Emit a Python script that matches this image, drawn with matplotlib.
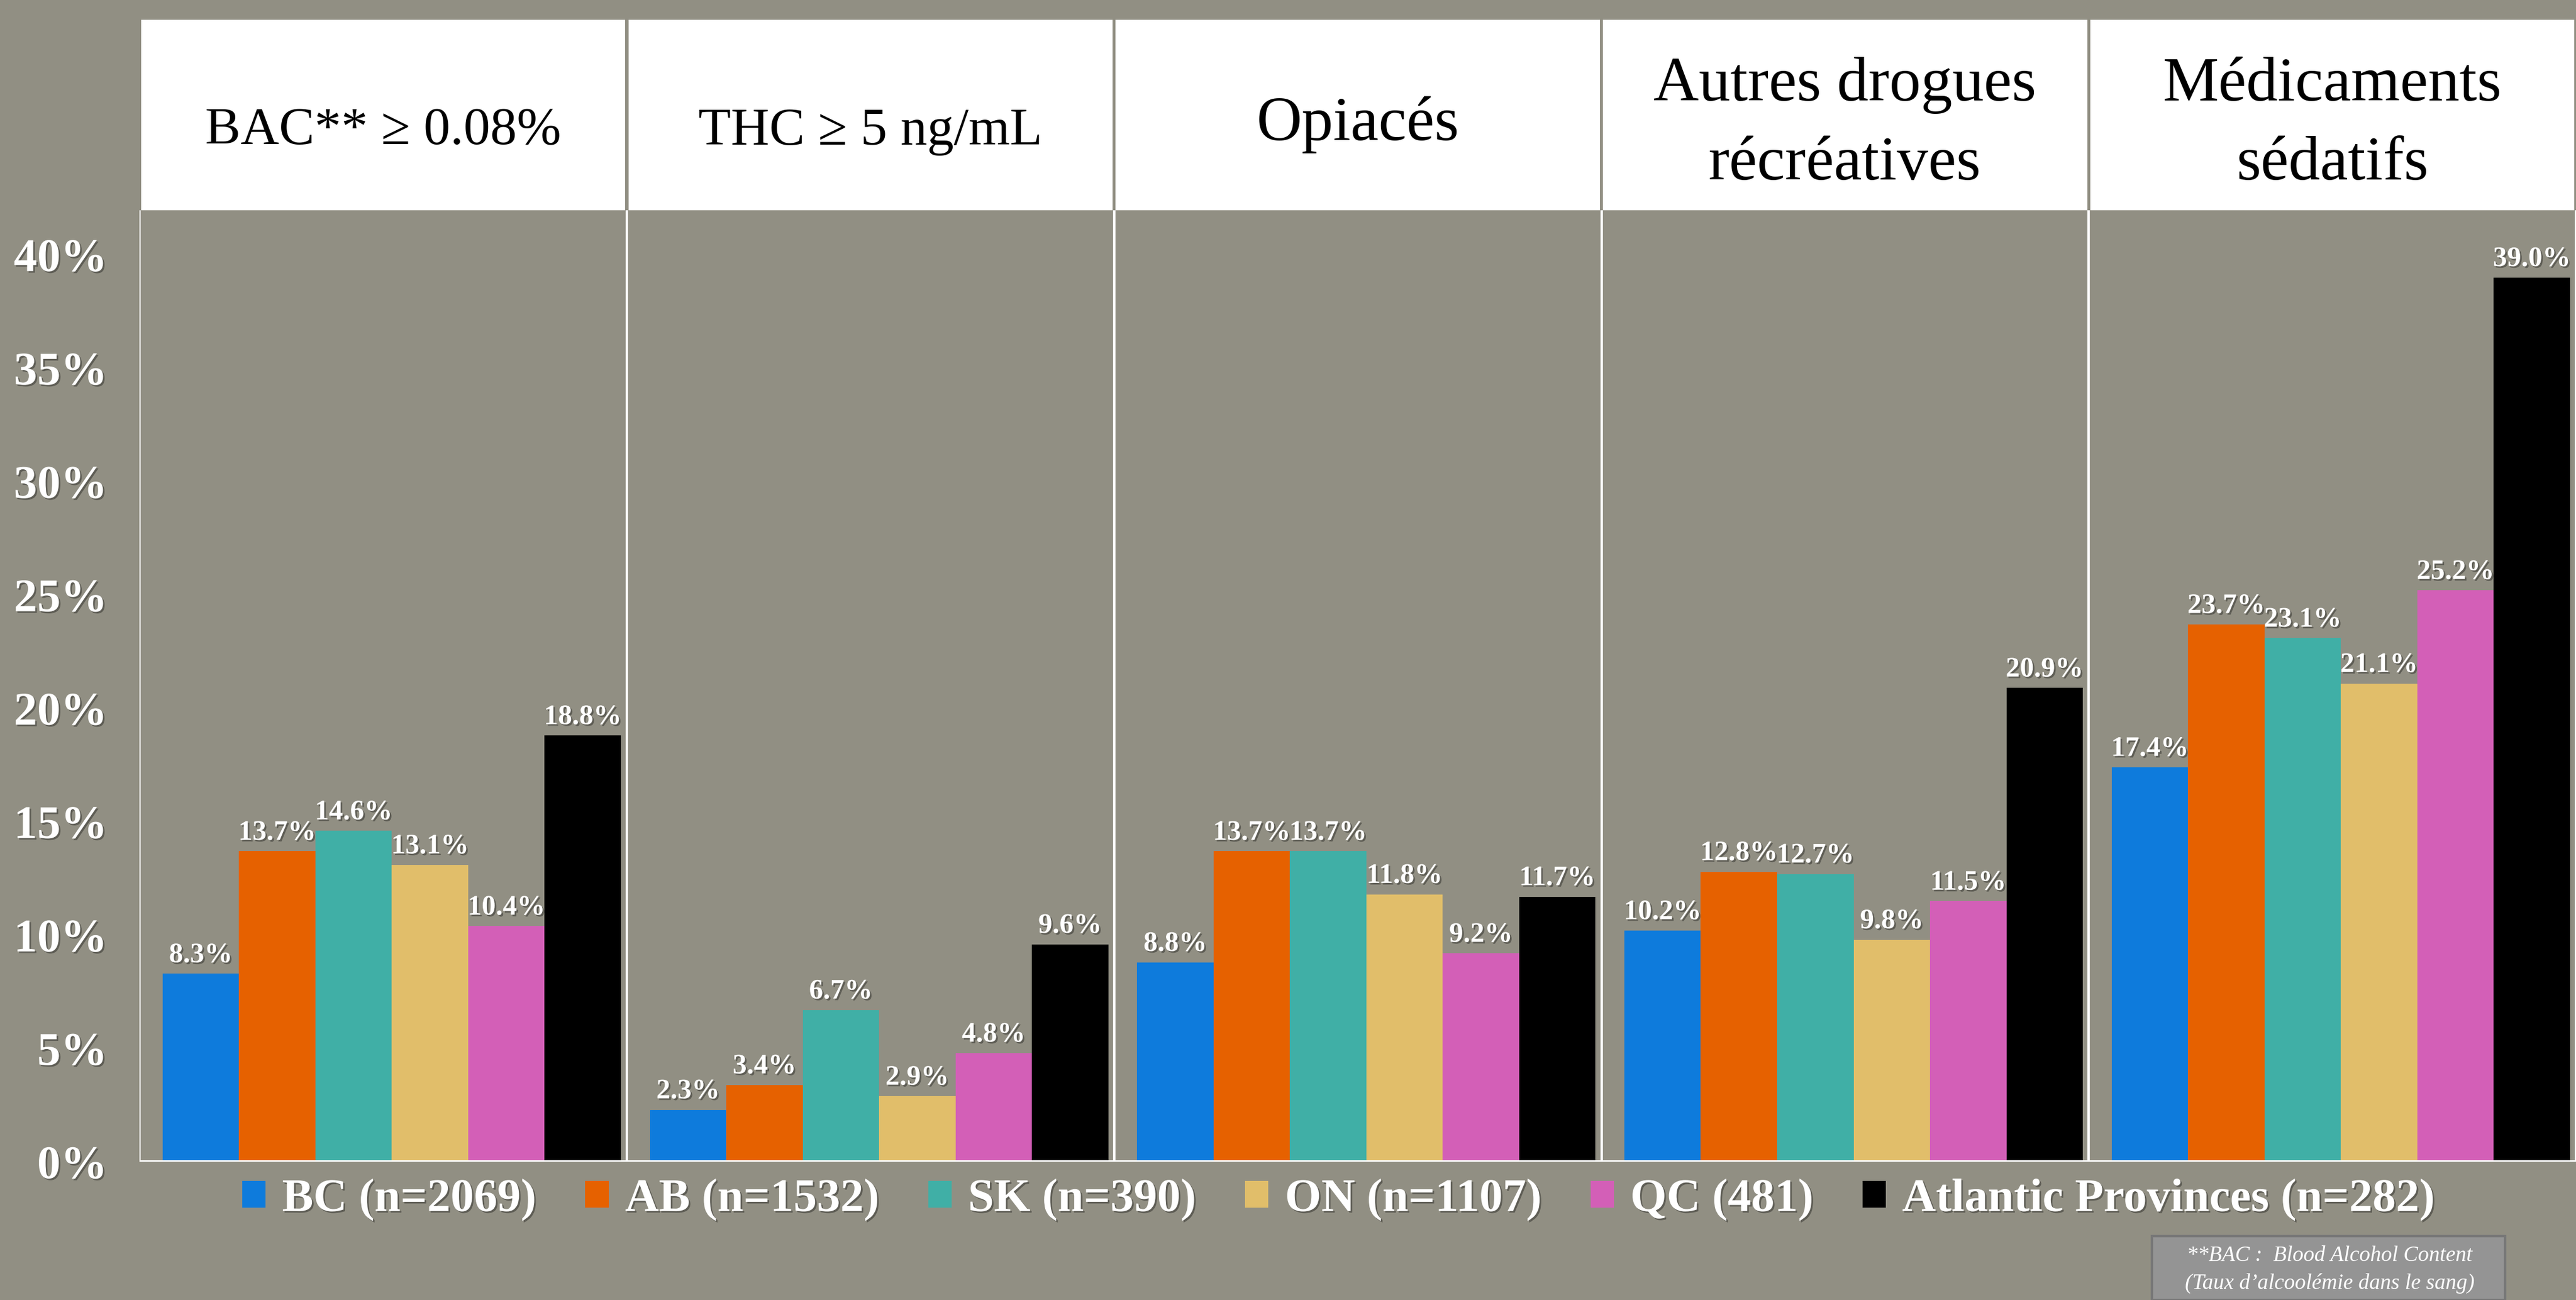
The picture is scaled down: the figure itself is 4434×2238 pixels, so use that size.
import matplotlib
matplotlib.use("Agg")
import matplotlib.pyplot as plt
import matplotlib.patheffects as pe
from matplotlib.patches import Rectangle, Patch

plt.rcParams['font.family'] = ['Liberation Serif', 'DejaVu Serif']

# ---- data ----
categories = ["BAC** \u2265 0.08%", "THC \u2265 5 ng/mL", "Opiac\u00e9s",
              "Autres drogues\nr\u00e9cr\u00e9atives", "M\u00e9dicaments\ns\u00e9datifs"]
series = ["BC (n=2069)", "AB (n=1532)", "SK (n=390)", "ON (n=1107)",
          "QC (481)", "Atlantic Provinces (n=282)"]
bc = [8.3, 2.3, 8.8, 10.2, 17.4]
ab = [13.7, 3.4, 13.7, 12.8, 23.7]
sk = [14.6, 6.7, 13.7, 12.7, 23.1]
on = [13.1, 2.9, 11.8, 9.8, 21.1]
qc = [10.4, 4.8, 9.2, 11.5, 25.2]
atl = [18.8, 9.6, 11.7, 20.9, 39.0]
yticks = [0, 5, 10, 15, 20, 25, 30, 35, 40]
footnote = ["**BAC :  Blood Alcohol Content", "(Taux d\u2019alcool\u00e9mie dans le sang)"]

colors = ["#0E7BDC", "#E66100", "#40AFA6", "#E1BE6A", "#D35FB7", "#000000"]
bg = "#918F83"

values = [bc, ab, sk, on, qc, atl]
shadow = [pe.withSimplePatchShadow(offset=(2, -2), shadow_rgbFace='black', alpha=0.35)]

fig = plt.figure(figsize=(44.34, 22.38), dpi=100, facecolor=bg)
ax_left, ax_right = 85 / 1568, 1.0
ax_bottom, ax_top = 1 - 707 / 791, 1 - 128 / 791
ax = fig.add_axes([ax_left, ax_bottom, ax_right - ax_left, ax_top - ax_bottom])
ax.set_facecolor(bg)

G = 6.378  # group width in bar units
n_groups = len(categories)
for j, (vals, col) in enumerate(zip(values, colors)):
    xs = [i * G + 0.8 + j for i in range(n_groups)]
    bars = ax.bar(xs, vals, width=1.0, color=col, zorder=2)
    for b, v in zip(bars, vals):
        ax.annotate(f"{v:.1f}%", (b.get_x() + b.get_width() / 2, v),
                    xytext=(0, 7), textcoords='offset points',
                    ha='center', va='bottom', color='white',
                    fontsize=35, fontweight='bold', path_effects=shadow, zorder=3)

ax.set_xlim(0, n_groups * G)
ax.set_ylim(0, 41.96)
for i in range(n_groups + 1):
    ax.axvline(i * G, color='white', lw=3, zorder=4)
ax.axhline(0, color='white', lw=4, zorder=4)

ax.set_xticks([])
ax.set_yticks(yticks)
ax.set_yticklabels([f"{t}%" for t in yticks], color='white', fontsize=58,
                   fontweight='bold')
for lbl in ax.get_yticklabels():
    lbl.set_path_effects(shadow)
ax.tick_params(axis='y', length=0, pad=40)
for s in ax.spines.values():
    s.set_visible(False)

# header boxes
head_bottom, head_top = 1 - 128 / 791, 1 - 12 / 791
pw = (ax_right - ax_left) / n_groups
for i, cat in enumerate(categories):
    x0 = ax_left + i * pw
    fig.patches.append(Rectangle((x0 + 0.0006, head_bottom), pw - 0.0012,
                                 head_top - head_bottom, transform=fig.transFigure,
                                 facecolor='white', edgecolor='none'))
    if i < 2:
        fig.text(x0 + pw / 2, 1 - 80 / 791, cat, ha='center', va='center',
                 fontsize=66, color='black')
    else:
        fig.text(x0 + pw / 2, 1 - 76 / 791, cat, ha='center', va='center',
                 fontsize=78, color='black', linespacing=1.5)

# legend
handles = [Patch(facecolor=c, edgecolor='none') for c in colors]
leg = fig.legend(handles, series, loc='center', bbox_to_anchor=(0.5195, 1 - 730 / 791),
                 ncol=6, frameon=False, handlelength=0.5, handleheight=0.5,
                 handletextpad=0.35, columnspacing=1.05,
                 prop={'size': 58, 'weight': 'bold'})
for t in leg.get_texts():
    t.set_color('white')
    t.set_path_effects(shadow)

# footnote box
fig.patches.append(Rectangle((1310 / 1568, 0), (1525 - 1310) / 1568, 1 - 752 / 791,
                             transform=fig.transFigure, facecolor='#949494',
                             edgecolor='#777777', lw=3))
fig.text(1418 / 1568, 1 - 764 / 791, footnote[0], ha='center', va='center',
         fontsize=27, style='italic', color='white')
fig.text(1418 / 1568, 1 - 781 / 791, footnote[1], ha='center', va='center',
         fontsize=27, style='italic', color='white')

fig.savefig("out.png", dpi=100, facecolor=bg)
